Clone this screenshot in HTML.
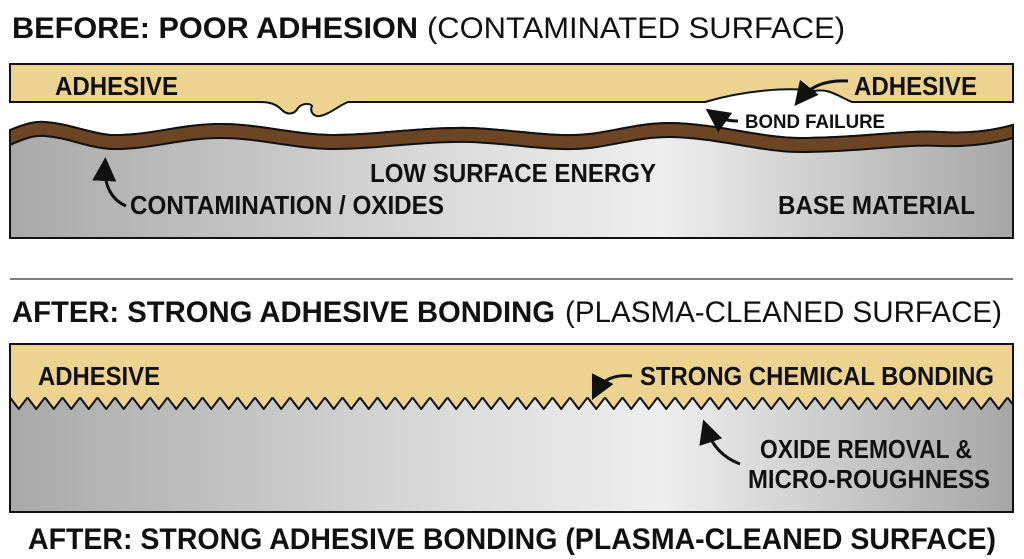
<!DOCTYPE html>
<html><head><meta charset="utf-8"><style>
html,body{margin:0;padding:0;background:#fff;}
svg{display:block;}
text{font-family:"Liberation Sans",Arial,sans-serif;fill:#111;}
.b{font-weight:bold;}
</style></head><body>
<svg width="1024" height="559" viewBox="0 0 1024 559" xmlns="http://www.w3.org/2000/svg">
<defs>
<linearGradient id="g" x1="0" x2="1" y1="0" y2="0">
<stop offset="0" stop-color="#a9a9a9"/><stop offset="0.45" stop-color="#dcdcdc"/><stop offset="0.65" stop-color="#eeeeee"/><stop offset="1" stop-color="#a6a6a6"/>
</linearGradient>
<pattern id="teeth" x="10" y="396" width="17.5" height="16" patternUnits="userSpaceOnUse">
<polygon points="0,0 17.5,0 17.5,1.5 8.75,13 0,1.5" fill="#ecd38f"/>
<polyline points="0,1.5 8.75,13 17.5,1.5" fill="none" stroke="#111" stroke-width="2" stroke-linejoin="round"/>
</pattern>
<marker id="ah" markerWidth="8" markerHeight="8" refX="5" refY="4" orient="auto"><path d="M0,0 L8,4 L0,8 Z" fill="#111"/></marker>
</defs>

<text x="12" y="38" class="b" font-size="30" textLength="406" lengthAdjust="spacingAndGlyphs">BEFORE: POOR ADHESION</text>
<text x="427" y="38" font-size="30" textLength="418" lengthAdjust="spacingAndGlyphs">(CONTAMINATED SURFACE)</text>

<!-- Top panel base -->
<path d="M10,130 C25,124 35,121 45,122 C70,124 85,132 110,135 C150,136 180,124 220,124 C260,124 290,134 330,135 C380,135 420,127 470,128 C520,130 550,138 590,134 C620,130 640,123 670,123 C720,124 760,138 800,138 C860,138 900,130 940,132 C970,134 995,130 1013,125 L1013,238 L10,238 Z" fill="url(#g)" stroke="#111" stroke-width="2"/>
<path d="M10,130 C25,124 35,121 45,122 C70,124 85,132 110,135 C150,136 180,124 220,124 C260,124 290,134 330,135 C380,135 420,127 470,128 C520,130 550,138 590,134 C620,130 640,123 670,123 C720,124 760,138 800,138 C860,138 900,130 940,132 C970,134 995,130 1013,125 L1013,138 C995,143 970,147 940,146 C900,144 860,152 800,152 C760,152 720,138 670,137 C640,137 620,144 590,148 C550,152 520,144 470,142 C420,141 380,149 330,149 C290,148 260,138 220,138 C180,138 150,150 110,149 C85,147 70,138 45,136 C35,135 25,138 10,145 Z" fill="#6b4524" stroke="#111" stroke-width="2"/>

<!-- Top adhesive -->
<path d="M10,64 L1013,64 L1013,102 L852,102 C838,96 828,88 815,91 C790,87 745,90 705,102 L348,102 C338,106 330,114 320,116 C312,117 310,110 312,106 C310,103 302,103 298,108 C294,115 287,115 282,110 C276,104 270,102 260,102 L10,102 Z" fill="#ecd38f" stroke="#111" stroke-width="2"/>
<text x="55" y="95" class="b" font-size="26" textLength="123" lengthAdjust="spacingAndGlyphs">ADHESIVE</text>
<text x="854" y="95" class="b" font-size="26" textLength="123" lengthAdjust="spacingAndGlyphs">ADHESIVE</text>
<path d="M848,81 C830,80 812,84 800,99" fill="none" stroke="#111" stroke-width="3" marker-end="url(#ah)"/>
<text x="745" y="128" class="b" font-size="19" textLength="140" lengthAdjust="spacingAndGlyphs">BOND FAILURE</text>
<path d="M738,121 C728,121 720,119 713,114" fill="none" stroke="#111" stroke-width="3" marker-end="url(#ah)"/>
<text x="370" y="182" class="b" font-size="26" textLength="286" lengthAdjust="spacingAndGlyphs">LOW SURFACE ENERGY</text>
<text x="130" y="214" class="b" font-size="26" textLength="314" lengthAdjust="spacingAndGlyphs">CONTAMINATION / OXIDES</text>
<path d="M126,206 C112,200 104,186 105,166" fill="none" stroke="#111" stroke-width="3" marker-end="url(#ah)"/>
<text x="778" y="214" class="b" font-size="26" textLength="197" lengthAdjust="spacingAndGlyphs">BASE MATERIAL</text>

<line x1="10" y1="279" x2="1013" y2="279" stroke="#555" stroke-width="1.5"/>

<text x="12" y="322" class="b" font-size="30" textLength="543" lengthAdjust="spacingAndGlyphs">AFTER: STRONG ADHESIVE BONDING</text>
<text x="565" y="322" font-size="30" textLength="437" lengthAdjust="spacingAndGlyphs">(PLASMA-CLEANED SURFACE)</text>

<rect x="10" y="344" width="1003" height="168" fill="url(#g)" stroke="#111" stroke-width="2"/>
<rect x="11" y="345" width="1001" height="52" fill="#ecd38f"/>
<rect x="11" y="396" width="1001" height="16" fill="url(#teeth)"/>
<text x="38" y="385" class="b" font-size="26" textLength="122" lengthAdjust="spacingAndGlyphs">ADHESIVE</text>
<text x="640" y="385" class="b" font-size="26" textLength="354" lengthAdjust="spacingAndGlyphs">STRONG CHEMICAL BONDING</text>
<path d="M632,376 C614,374 602,380 596,392" fill="none" stroke="#111" stroke-width="3" marker-end="url(#ah)"/>
<text x="760" y="458" class="b" font-size="26" textLength="212" lengthAdjust="spacingAndGlyphs">OXIDE REMOVAL &amp;</text>
<text x="748" y="488" class="b" font-size="26" textLength="242" lengthAdjust="spacingAndGlyphs">MICRO-ROUGHNESS</text>
<path d="M740,464 C724,458 712,446 706,428" fill="none" stroke="#111" stroke-width="3" marker-end="url(#ah)"/>

<text x="28" y="549" class="b" font-size="30" textLength="968" lengthAdjust="spacingAndGlyphs">AFTER: STRONG ADHESIVE BONDING (PLASMA-CLEANED SURFACE)</text>
</svg>
</body></html>
